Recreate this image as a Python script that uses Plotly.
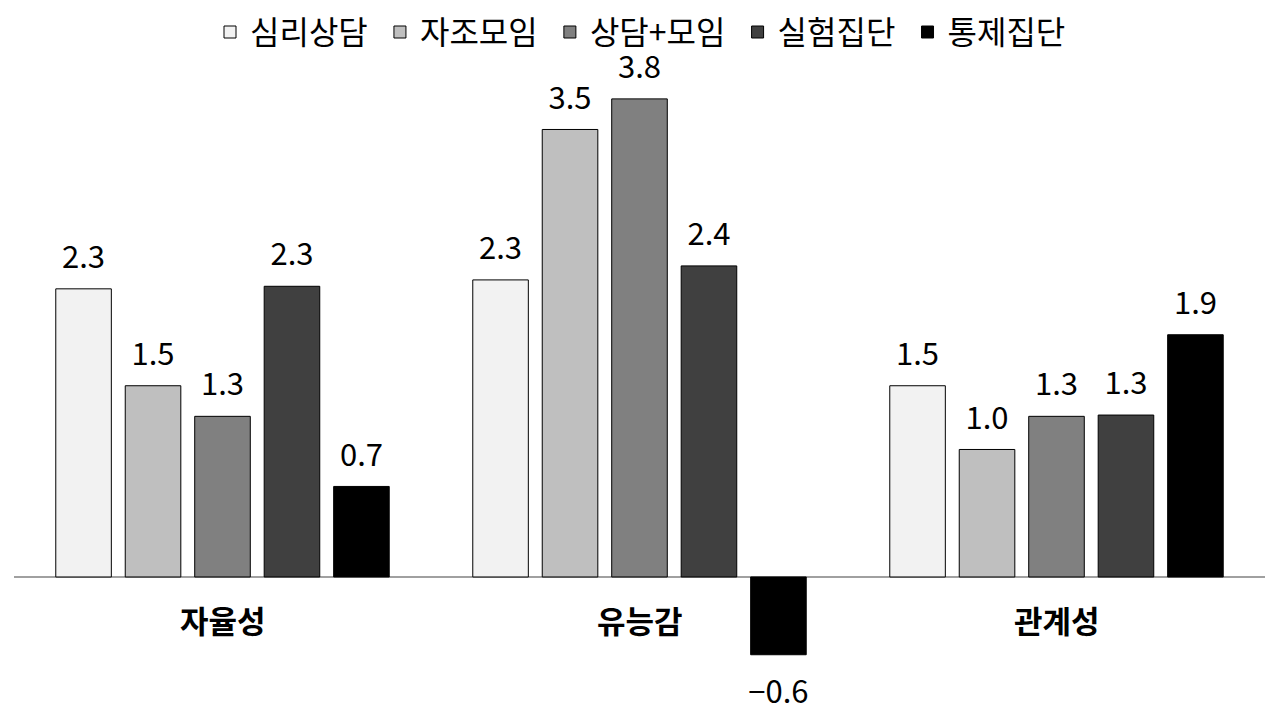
import plotly.graph_objects as go

categories = ["자율성", "유능감", "관계성"]
series_names = ["심리상담", "자조모임", "상담+모임", "실험집단", "통제집단"]
series_values = [
    [2.26, 2.33, 1.50],
    [1.50, 3.51, 1.00],
    [1.26, 3.75, 1.26],
    [2.28, 2.44, 1.27],
    [0.71, -0.61, 1.90],
]
colors = ["#F2F2F2", "#BFBFBF", "#808080", "#404040", "#000000"]

FONT = "Noto Sans CJK KR"
LABEL_PAD = 0.07  # small invisible spacer so value labels sit a bit above the bars


def fmt(v):
    s = f"{v:.1f}"
    return s.replace("-", "\u2212")


fig = go.Figure()
for name, vals, col in zip(series_names, series_values, colors):
    fig.add_trace(go.Bar(
        x=categories, y=vals, name=name + "\u00a0", offsetgroup=name,
        marker=dict(color=col, line=dict(color="#000000", width=1)),
        cliponaxis=False,
    ))
    fig.add_trace(go.Bar(
        x=categories, base=vals,
        y=[LABEL_PAD if v >= 0 else -LABEL_PAD for v in vals],
        offsetgroup=name, showlegend=False, hoverinfo="skip",
        marker=dict(color="rgba(0,0,0,0)", line=dict(width=0)),
        text=[fmt(v) for v in vals], textposition="outside",
        constraintext="none",
        textfont=dict(size=31, color="#000000", family=FONT),
        cliponaxis=False,
    ))

for c in categories:
    fig.add_annotation(x=c, y=0, xref="x", yref="y", text=f"<b>{c}</b>",
                       showarrow=False, yanchor="middle", yshift=-43,
                       font=dict(size=31, color="#000000", family=FONT))

fig.update_layout(
    width=1272, height=712,
    margin=dict(l=6, r=15, t=52, b=20, autoexpand=False),
    paper_bgcolor="white", plot_bgcolor="white",
    barmode="group", bargap=0.167, bargroupgap=0.2,
    font=dict(family=FONT, color="#000000"),
    showlegend=True,
    legend=dict(orientation="h", x=0.5, xanchor="center", xref="container",
                y=0.966, yanchor="middle", yref="container",
                bgcolor="rgba(0,0,0,0)",
                font=dict(size=32, family=FONT), itemwidth=30, traceorder="normal"),
    xaxis=dict(showticklabels=False, showgrid=False, showline=False, ticks=""),
    yaxis=dict(range=[-0.965, 4.055], showgrid=False, showticklabels=False,
               zeroline=True, zerolinecolor="#A0A0A0", zerolinewidth=1.5, ticks=""),
)

fig.write_html("out.html")
